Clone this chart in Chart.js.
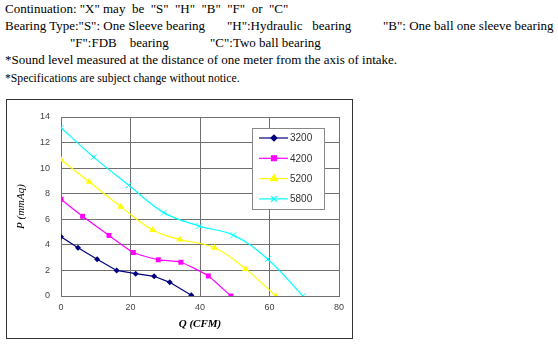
<!DOCTYPE html>
<html>
<head>
<meta charset="utf-8">
<script src="https://cdn.jsdelivr.net/npm/chart.js@4.4.1/dist/chart.umd.min.js"></script>
<style>
  body { margin: 0; background: #fff; width: 558px; height: 347px; overflow: hidden; position: relative; }
  .t { position: absolute; font-family: "Liberation Serif", "Times New Roman", serif; font-size: 13px; color: #000; white-space: pre; line-height: 1; }
  .narrow { transform: scaleX(0.9); transform-origin: left center; }
  #box { position: absolute; left: 6px; top: 99px; width: 345px; height: 238px; border: 1px solid #333; }
  #box canvas { position: absolute; left: 0; top: 0; }
</style>
</head>
<body>
<div class="t" style="left:5px;top:2px">Continuation: "X" may  be  "S"  "H"  "B"  "F"  or  "C"</div>
<div class="t" style="left:5px;top:19px">Bearing Type:"S": One Sleeve bearing</div>
<div class="t" style="left:227px;top:19px">"H":Hydraulic   bearing</div>
<div class="t" style="left:383px;top:19px">"B": One ball one sleeve bearing</div>
<div class="t" style="left:70px;top:36px">"F":FDB    bearing</div>
<div class="t" style="left:210px;top:36px">"C":Two ball bearing</div>
<div class="t" style="left:5px;top:53px">*Sound level measured at the distance of one meter from the axis of intake.</div>
<div class="t narrow" style="left:5px;top:71px">*Specifications are subject change without notice.</div>
<div id="box"><canvas id="fanChart" width="345" height="238"></canvas></div>
<script>
const seriesNames = ["3200", "4200", "5200", "5800"];
const q3200 = [0, 4.9, 10.4, 16, 21.5, 26.8, 31.3, 37.5];
const p3200 = [4.63, 3.77, 2.88, 2.0, 1.75, 1.54, 1.07, 0.05];
const q4200 = [0, 6.2, 13.8, 20.8, 28, 34.5, 42.4, 48.9];
const p4200 = [7.57, 6.23, 4.74, 3.4, 2.83, 2.64, 1.57, 0];
const q5200 = [0, 8.1, 17.2, 26.4, 34.2, 44.2, 53.1, 61.8];
const p5200 = [10.65, 8.93, 6.99, 5.16, 4.42, 3.77, 2.12, 0];
const q5800 = [0, 9.4, 19.5, 29.6, 39.8, 49.6, 59.5, 69.6];
const p5800 = [13.17, 10.86, 8.66, 6.52, 5.47, 4.76, 2.88, 0];
const xTicks = [0, 20, 40, 60, 80];
const yTicks = [0, 2, 4, 6, 8, 10, 12, 14];

function pts(qs, ps) {
  return qs.map((q, i) => ({ x: q, y: ps[i] }));
}

const colors = ["#000080", "#ff00ff", "#ffff00", "#00ffff"];
const styles = ["rectRot", "rect", "triangle", "crossRot"];
const radii = [3, 3.5, 4, 4];
const tensions = [0, 0.15, 0.4, 0.4];
const allQ = [q3200, q4200, q5200, q5800];
const allP = [p3200, p4200, p5200, p5800];

const datasets = seriesNames.map((name, i) => ({
  label: name,
  data: pts(allQ[i], allP[i]),
  showLine: true,
  borderColor: colors[i],
  backgroundColor: colors[i],
  borderWidth: 1.2,
  pointStyle: styles[i],
  pointRadius: radii[i],
  pointBorderWidth: i === 3 ? 1 : 0,
  pointBorderColor: colors[i],
  tension: tensions[i],
  cubicInterpolationMode: "default"
}));

// legend drawn inside the plot, like the original
const boxLegend = {
  id: "boxLegend",
  afterDraw(chart) {
    const ctx = chart.ctx;
    const a = chart.chartArea;
    const bx = a.left + 191, by = a.top + 11, bw = 72, bh = 81;
    ctx.save();
    ctx.fillStyle = "#fff";
    ctx.fillRect(bx, by, bw, bh);
    ctx.strokeStyle = "#888";
    ctx.lineWidth = 1;
    ctx.strokeRect(bx + 0.5, by + 0.5, bw, bh);
    chart.data.datasets.forEach((ds, i) => {
      const y = by + 10 + i * 20.3;
      ctx.strokeStyle = ds.borderColor;
      ctx.lineWidth = 1.2;
      ctx.beginPath();
      ctx.moveTo(bx + 7, y);
      ctx.lineTo(bx + 36, y);
      ctx.stroke();
      ctx.fillStyle = ds.backgroundColor;
      Chart.helpers.drawPoint(ctx, {
        pointStyle: ds.pointStyle, radius: ds.pointRadius, rotation: 0, borderWidth: 1
      }, bx + 22, y);
      ctx.fillStyle = "#333";
      ctx.font = "10px 'Liberation Sans', Arial, sans-serif";
      ctx.textBaseline = "middle";
      ctx.fillText(ds.label, bx + 38, y + 0.5);
    });
    ctx.restore();
  }
};

new Chart(document.getElementById("fanChart"), {
  type: "scatter",
  data: { datasets: datasets },
  plugins: [boxLegend],
  options: {
    responsive: false,
    animation: false,
    layout: { padding: { left: 0, top: 17, right: 13, bottom: 0 } },
    plugins: { legend: { display: false }, tooltip: { enabled: false } },
    scales: {
      x: {
        type: "linear",
        min: 0, max: 80,
        afterBuildTicks: s => { s.ticks = xTicks.map(v => ({ value: v })); },
        afterFit: s => { s.height = 42; },
        grid: { color: "#707070", drawTicks: false },
        border: { color: "#707070" },
        ticks: { color: "#444", padding: 6, font: { family: "'Liberation Sans', Arial, sans-serif", size: 9 } },
        title: {
          display: true, text: "Q (CFM)", color: "#000", padding: { top: 0, bottom: 7 },
          font: { family: "'Liberation Serif', 'Times New Roman', serif", size: 11, style: "italic", weight: "bold" }
        }
      },
      y: {
        type: "linear",
        min: 0, max: 14,
        afterBuildTicks: s => { s.ticks = yTicks.map(v => ({ value: v })); },
        afterFit: s => { s.width = 54; },
        grid: { color: "#707070", drawTicks: false },
        border: { color: "#707070" },
        ticks: { color: "#444", padding: 11, font: { family: "'Liberation Sans', Arial, sans-serif", size: 9 } },
        title: {
          display: true, text: "P (mmAq)", color: "#000", padding: { top: 8, bottom: 0 },
          font: { family: "'Liberation Serif', 'Times New Roman', serif", size: 11, style: "italic" }
        }
      }
    }
  }
});
</script>
</body>
</html>
